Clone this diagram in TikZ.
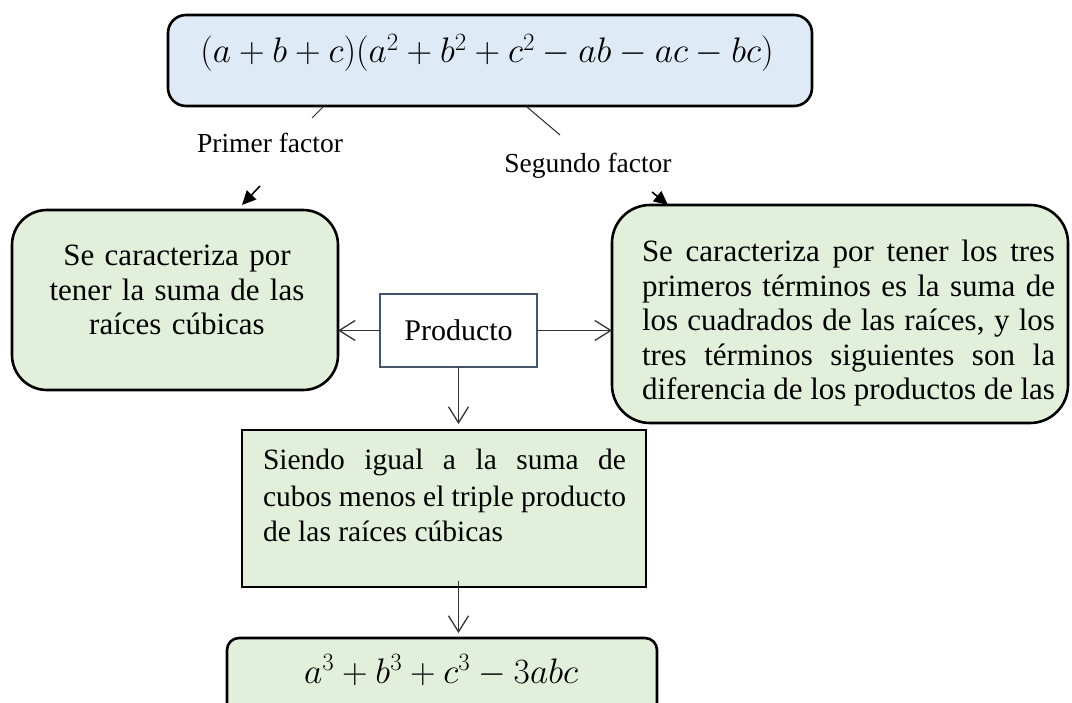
\documentclass[tikz,border=0pt]{standalone}
\usepackage{fix-cm}
\usepackage{fontspec}
\setmainfont{Liberation Serif}
\usetikzlibrary{arrows.meta}
\definecolor[named]{BoxBlue}{RGB}{222,234,246}
\definecolor[named]{BoxGreen}{RGB}{226,239,218}
\definecolor[named]{BoxSlate}{RGB}{68,84,106}
\newcommand{\eqsize}{\fontsize{35.5}{40}\selectfont}
\newcommand{\parsize}{\fontsize{31}{34.5}\selectfont}
\newcommand{\midsize}{\fontsize{29.5}{36}\selectfont}
\newcommand{\tagsize}{\fontsize{27.5}{32}\selectfont}
\tikzset{
  frame/.style={draw,line width=2.6pt,inner sep=0pt,outer sep=0pt},
  conn/.style={line width=1.3pt,black!80,-{Straight Barb[length=16pt,width=20pt]}},
  pointer/.style={line width=1.6pt,-{Triangle[length=14pt,width=13pt]}},
  tagline/.style={line width=1pt,black!85},
}

\begin{document}
\begin{tikzpicture}[x=1pt,y=-1pt]
    \useasboundingbox (0,0) rectangle (1072,703);
    \clip (0,0) rectangle (1072,703);

    % Boxes
    \begin{scope}[every node/.style={frame}]
      \node[fill=BoxBlue,rounded corners=18pt,minimum width=644pt,minimum height=91pt] (factored) at (490,60.5) {};
      \node[fill=BoxGreen,rounded corners=35pt,minimum width=326pt,minimum height=180pt] (first) at (175,300) {};
      \node[fill=BoxGreen,rounded corners=38pt,minimum width=456pt,minimum height=218pt] (second) at (840,314) {};
      \node[fill=BoxGreen,minimum width=404pt,minimum height=157pt] (equal) at (444,508.5) {};
      \node[fill=BoxGreen,rounded corners=12pt,minimum width=430pt,minimum height=122pt] (cubes) at (442,699) {};
      \node[draw=BoxSlate,fill=white,minimum width=157pt,minimum height=73pt,font=\fontsize{30}{34}\selectfont] (product) at (458.5,330.5) {Producto};
    \end{scope}

    % Texts inside the boxes
    \begin{scope}[every node/.style={inner sep=0pt,outer sep=0pt}]
      \node[anchor=base,font=\eqsize] (factoredeq) at (487,63) {$(a+b+c)(a^2+b^2+c^2-ab-ac-bc)$};
      \node[anchor=base,text width=300pt,align=center,font=\parsize] (firsttxt) at (177,266)
        {Se caracteriza por\\ tener la suma de las\\ raíces cúbicas};
      \node[anchor=base west,text width=413pt,align=justify,font=\parsize] (secondtxt) at (642,262)
        {\parfillskip=0pt Se caracteriza por tener los tres\linebreak
         primeros términos es la suma de\linebreak
         los cuadrados de las raíces, y los\linebreak
         tres términos siguientes son la\linebreak
         diferencia de los productos de las\par};
      \node[anchor=base west,text width=363pt,align=justify,font=\midsize] (equaltxt) at (263,470)
        {Siendo igual a la suma de\linebreak
         cubos menos el triple producto\linebreak
         de las raíces cúbicas};
      \node[anchor=base,font=\eqsize] (cubeseq) at (441,683) {$a^3+b^3+c^3-3abc$};
    \end{scope}

    % Labels of the two factors
    \node[anchor=base,inner sep=0pt,font=\tagsize] (firstlbl) at (270,153) {Primer factor};
    \node[anchor=base,inner sep=0pt,font=\tagsize] (secondlbl) at (588,173) {Segundo factor};

    \coordinate (fa) at (323,107);
    \coordinate (fb) at (312,118);
    \coordinate (sa) at (527,107);
    \coordinate (sb) at (560,135);
    \draw[tagline] (fa) -- (fb);
    \draw[tagline] (sa) -- (sb);

    \coordinate (fp) at (260,186);
    \coordinate (fq) at (242,205);
    \coordinate (sp) at (652,192);
    \coordinate (sq) at (668,205);
    \draw[pointer] (fp) -- (fq);
    \draw[pointer] (sp) -- (sq);

    % Connectors from the product
    \draw[conn] (product.west) -- (product.west -| first.east);
    \draw[conn] (product.east) -- (product.east -| second.west);
    \draw[conn,shorten >=6pt] (product.south) -- (product.south |- equal.north);
    \draw[conn,shorten <=-6pt,shorten >=5pt] (product.south |- equal.south) -- (product.south |- cubes.north);

  \end{tikzpicture}
\end{document}
